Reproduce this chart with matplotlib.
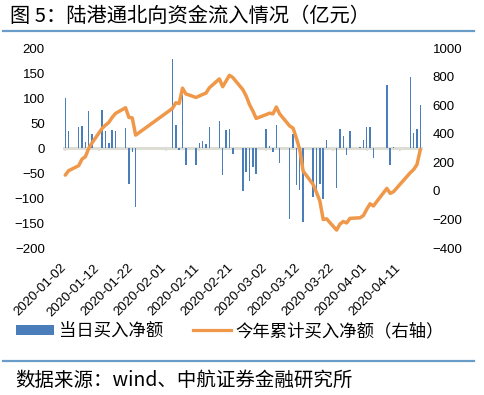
import numpy as np
import matplotlib
matplotlib.use("Agg")
import matplotlib.pyplot as plt
import matplotlib.dates as mdates
import matplotlib.transforms as mtransforms
from matplotlib.patches import Patch
from matplotlib.lines import Line2D

plt.rcParams['font.family'] = ['Liberation Sans', 'Noto Sans CJK SC', 'DejaVu Sans']

# trading days 2020 (northbound)
dates = ["2020-01-02", "2020-01-03", "2020-01-06", "2020-01-07", "2020-01-08", "2020-01-09", "2020-01-10",
         "2020-01-13", "2020-01-14", "2020-01-15", "2020-01-16", "2020-01-17",
         "2020-01-20", "2020-01-21", "2020-01-22", "2020-01-23",
         "2020-02-03", "2020-02-04", "2020-02-05", "2020-02-06", "2020-02-07",
         "2020-02-10", "2020-02-11", "2020-02-12", "2020-02-13", "2020-02-14",
         "2020-02-17", "2020-02-18", "2020-02-19", "2020-02-20", "2020-02-21",
         "2020-02-24", "2020-02-25", "2020-02-26", "2020-02-27", "2020-02-28",
         "2020-03-02", "2020-03-03", "2020-03-04", "2020-03-05", "2020-03-06",
         "2020-03-09", "2020-03-10", "2020-03-11", "2020-03-12", "2020-03-13",
         "2020-03-16", "2020-03-17", "2020-03-18", "2020-03-19", "2020-03-20",
         "2020-03-23", "2020-03-24", "2020-03-25", "2020-03-26", "2020-03-27",
         "2020-03-30", "2020-03-31", "2020-04-01", "2020-04-02", "2020-04-03",
         "2020-04-07", "2020-04-08", "2020-04-09",
         "2020-04-14", "2020-04-15", "2020-04-16", "2020-04-17"]

daily = [100, 35, 42, 44, 13, 74, 29,
         76, 35, 11, 37, 35,
         41, -71, -7, -117,
         179, 47, -3, 106, -33,
         -33, 11, 14, 8, 42,
         54, -53, 36, 38, -11,
         -86, -47, -66, -38, -51,
         39, 4, -7, 47, -29,
         -142, 29, -73, -83, -147,
         -97, -81, -71, -102, 16,
         -79, 39, 25, -13, 34,
         2, 16, 43, 43, -19,
         126, -33, 2,
         142, 31, 38, 86]

cumul = [111, 142, 177, 223, 240, 298, 337,
         438, 461, 480, 515, 543,
         583, 515, 512, 391,
         578, 618, 613, 720, 680,
         655, 665, 676, 685, 722,
         785, 730, 770, 810, 795,
         710, 665, 605, 560, 508,
         535, 545, 540, 588, 540,
         455, 440, 370, 290, 140,
         45, -10, -70, -200, -195,
         -274, -232, -214, -224, -192,
         -188, -172, -128, -90, -105,
         18, -17, -5,
         128, 150, 185, 290]

tick_dates = ["2020-01-02", "2020-01-12", "2020-01-22", "2020-02-01", "2020-02-11", "2020-02-21",
              "2020-03-02", "2020-03-12", "2020-03-22", "2020-04-01", "2020-04-11"]

x = np.array(dates, dtype="datetime64[D]").astype("O")
xt = np.array(tick_dates, dtype="datetime64[D]").astype("O")

bar_c = "#4A7EBB"
line_c = "#F0984A"
rule_c = "#6A9CC8"

fig = plt.figure(figsize=(4.84, 3.95), dpi=100)
ax = fig.add_axes([0.130, 0.372, 0.744, 0.506])
ax2 = ax.twinx()

ax.bar(x, daily, width=0.45, color=bar_c, zorder=2)
ax2.plot(x, cumul, color=line_c, lw=2.5, solid_joinstyle='round', solid_capstyle='round', zorder=3)

ax.set_ylim(-200, 200)
ax.set_yticks(np.arange(-200, 201, 50))
ax2.set_ylim(-400, 1000)
ax2.set_yticks(np.arange(-400, 1001, 200))

x0 = np.datetime64("2020-01-02").astype("O")
ax.set_xlim(mdates.date2num(x0) - 0.7, mdates.date2num(x0) + 106.8)
ax.set_xticks(xt)
ax.xaxis.set_major_formatter(mdates.DateFormatter("%Y-%m-%d"))

for a in (ax, ax2):
    for s in a.spines.values():
        s.set_visible(False)

ax.tick_params(axis='y', length=0, pad=13, labelsize=9.5, colors='black')
ax2.tick_params(axis='y', length=0, pad=7, labelsize=9.5, colors='black')
ax.tick_params(axis='x', length=0, pad=10, labelsize=9.5)
offset = mtransforms.ScaledTranslation(3 / 100, 0, fig.dpi_scale_trans)
for lab in ax.get_xticklabels():
    lab.set_rotation(45)
    lab.set_ha('right')
    lab.set_transform(lab.get_transform() + offset)

# zero axis line with small ticks
ax.axhline(0, color="#DDDDD6", lw=2.2, zorder=1)
ax.vlines(xt, -6, 0, color="#DDDDD6", lw=1.2, zorder=1)

# title and rules
fig.text(10 / 484, 1 - 16 / 395, "图 5：陆港通北向资金流入情况（亿元）", fontsize=14.6,
         family=['Noto Sans CJK SC'], va='center', ha='left')
fig.add_artist(Line2D([3 / 484, 474 / 484], [1 - 31 / 395, 1 - 31 / 395], color=rule_c, lw=1.6))
fig.add_artist(Line2D([3 / 484, 474 / 484], [1 - 361 / 395, 1 - 361 / 395], color=rule_c, lw=1.6))
fig.text(15 / 484, 1 - 380 / 395, "数据来源：wind、中航证券金融研究所", fontsize=14,
         family=['Noto Sans CJK SC'], va='center', ha='left')

handles = [Patch(facecolor=bar_c, edgecolor='none'), Line2D([], [], color=line_c, lw=2.3)]
fig.legend(handles, ["当日买入净额", "今年累计买入净额（右轴）"], loc='center',
           bbox_to_anchor=(0.475, 1 - 331 / 395), ncol=2, frameon=False,
           prop={'family': ['Noto Sans CJK SC'], 'size': 12.5},
           handlelength=2.2, handleheight=0.5, handletextpad=0.25, columnspacing=1.7)

fig.savefig("out.png", dpi=100)
